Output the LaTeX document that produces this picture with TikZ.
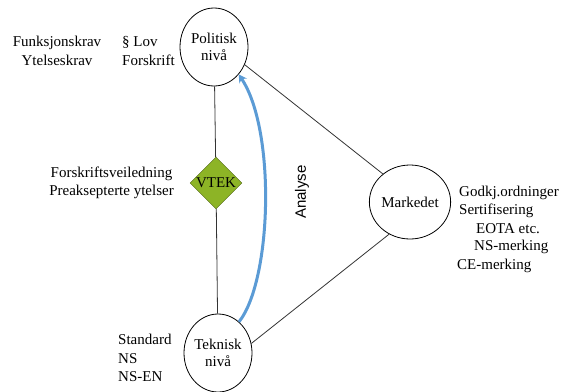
\documentclass[tikz,border=0pt]{standalone}
\usepackage{fontspec}
\setmainfont{Liberation Serif}
\newfontfamily\analysefont{Liberation Sans}
\usepackage{xcolor}
\usetikzlibrary{shapes.geometric, arrows.meta, positioning}

\definecolor{vtekgreen}{RGB}{141,180,38}
\definecolor{vtekedge}{RGB}{80,100,20}
\definecolor{analyseblue}{RGB}{91,155,213}

\begin{document}
\begin{tikzpicture}[x=1pt, y=-1pt]
\tikzstyle{levelnode} = [ellipse, draw, thick, inner sep=0pt, minimum width=68pt, minimum height=78pt, align=center, font=\fontsize{15}{17}\selectfont]
\tikzstyle{vteknode} = [diamond, draw=vtekedge, fill=vtekgreen, inner sep=0pt, minimum width=52pt, minimum height=52pt, font=\fontsize{15}{17}\selectfont]
\tikzstyle{sidetext} = [inner sep=0pt, font=\fontsize{15}{18.5}\selectfont]
\tikzstyle{link} = [thick, black!80]
\tikzstyle{bluearrow} = [line width=3pt, analyseblue, -{Stealth[length=8pt, width=9pt]}]

\useasboundingbox (0,0) rectangle (565,391);

% nivaaer
\node (pol) [levelnode] at (214,47) {Politisk\\nivå};
\node (vtek) [vteknode] at (216,183) {VTEK};
\node (tek) [levelnode] at (218,353) {Teknisk\\nivå};
\node (mark) [levelnode, minimum width=66pt, minimum height=74pt] at (410,202) {Markedet};

\draw [link] (pol) -- (vtek);
\draw [link] (vtek) -- (tek);
\draw [link] (pol.-30) -- (mark.134);
\draw [link] (mark.237) -- (tek.16);

% analyse
\draw [bluearrow] (tek.56) .. controls (272,280) and (276,130) .. (pol.-48);
\node (analyse) [rotate=90, font=\analysefont\fontsize{15}{17}\selectfont] at (302,192) {Analyse};

% tekster
\node (krav) [sidetext, align=center] at (57,51) {Funksjonskrav\\Ytelseskrav};
\node (lov) [sidetext, align=left, anchor=west] at (122,51) {§ Lov\\Forskrift};
\node (veil) [sidetext, align=center, anchor=east] at (174,183) {Forskriftsveiledning\\Preaksepterte ytelser};
\node (godkj) [sidetext, anchor=west] at (459,193) {Godkj.ordninger};
\node (sert) [sidetext, anchor=west] at (459,211) {Sertifisering};
\node (eota) [sidetext, anchor=west] at (476,229) {EOTA etc.};
\node (nsm) [sidetext, anchor=west] at (474,247) {NS-merking};
\node (cem) [sidetext, anchor=west] at (457,266) {CE-merking};
\node (std) [sidetext, align=left, anchor=west] at (118,358) {Standard\\NS\\NS-EN};

\end{tikzpicture}
\end{document}
